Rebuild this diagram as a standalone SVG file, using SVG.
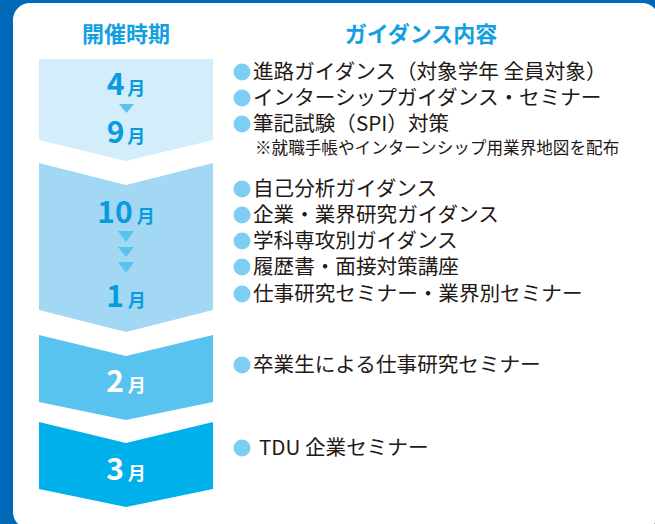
<svg xmlns="http://www.w3.org/2000/svg" width="655" height="524" viewBox="0 0 655 524">
<style>
.hd{font-family:"Noto Sans CJK JP","Noto Sans",sans-serif;font-size:22px;font-weight:700;fill:#12a0e2;text-anchor:middle}
.mo{font-family:"Noto Sans CJK JP","Noto Sans",sans-serif;font-weight:700;text-anchor:middle}
.num{font-size:30px}
.tsu{font-size:18px}
.item{font-family:"Noto Sans CJK JP","Noto Sans",sans-serif;font-size:20.6px;fill:#231815}
.note{font-family:"Noto Sans CJK JP","Noto Sans",sans-serif;font-size:16.6px;fill:#231815}
.bul{fill:#7ecef4}
.tri{fill:#59c3f0}
</style>
<rect x="0" y="0" width="655" height="524" fill="#0068b7"/>
<rect x="13" y="3" width="646" height="526" rx="17" fill="#ffffff"/>
<text class="hd" x="126" y="42">開催時期</text>
<text class="hd" x="421" y="42">ガイダンス内容</text>
<g id="period1">
<polygon points="39,59 213,59 213,140 126,161 39,140" fill="#d4edfa"/>
<text class="mo" x="126" y="95" fill="#0a9ae0"><tspan class="num">4</tspan><tspan class="tsu" dx="3">月</tspan></text>
<polygon class="tri" points="119,104 134,104 126.5,113"/>
<text class="mo" x="126" y="143" fill="#0a9ae0"><tspan class="num">9</tspan><tspan class="tsu" dx="3">月</tspan></text>
</g>
<g id="period2">
<polygon points="39,163 126,185 213,163 213,310 126,332 39,310" fill="#a3d8f5"/>
<text class="mo" x="126" y="223" fill="#0a9ae0"><tspan class="num">10</tspan><tspan class="tsu" dx="4">月</tspan></text>
<polygon class="tri" points="118,231 134,231 126,242"/>
<polygon class="tri" points="118,247 134,247 126,257"/>
<polygon class="tri" points="118,262 134,262 126,273"/>
<text class="mo" x="126" y="307" fill="#0a9ae0"><tspan class="num">1</tspan><tspan class="tsu" dx="4">月</tspan></text>
</g>
<g id="period3">
<polygon points="39,335 126,356 213,335 213,402 126,420 39,402" fill="#59c3f0"/>
<text class="mo" x="126" y="392" fill="#ffffff"><tspan class="num">2</tspan><tspan class="tsu" dx="4">月</tspan></text>
</g>
<g id="period4">
<polygon points="39,422 126,443 213,422 213,489 126,507 39,489" fill="#00b0ea"/>
<text class="mo" x="126" y="480" fill="#ffffff"><tspan class="num">3</tspan><tspan class="tsu" dx="4">月</tspan></text>
</g>
<g id="guidance1">
<circle class="bul" cx="242" cy="72" r="8.5"/>
<text class="item" x="253" y="79">進路ガイダンス（対象学年 全員対象）</text>
<circle class="bul" cx="242" cy="98" r="8.5"/>
<text class="item" x="253" y="105">インターシップガイダンス・セミナー</text>
<circle class="bul" cx="242" cy="124" r="8.5"/>
<text class="item" x="253" y="131">筆記試験（SPI）対策</text>
<text class="note" x="255" y="154">※就職手帳やインターンシップ用業界地図を配布</text>
</g>
<g id="guidance2">
<circle class="bul" cx="242" cy="189" r="8.5"/>
<text class="item" x="253" y="196">自己分析ガイダンス</text>
<circle class="bul" cx="242" cy="215" r="8.5"/>
<text class="item" x="253" y="222">企業・業界研究ガイダンス</text>
<circle class="bul" cx="242" cy="241" r="8.5"/>
<text class="item" x="253" y="248">学科専攻別ガイダンス</text>
<circle class="bul" cx="242" cy="267" r="8.5"/>
<text class="item" x="253" y="274">履歴書・面接対策講座</text>
<circle class="bul" cx="242" cy="294" r="8.5"/>
<text class="item" x="253" y="301">仕事研究セミナー・業界別セミナー</text>
</g>
<g id="guidance3">
<circle class="bul" cx="242" cy="365" r="8.5"/>
<text class="item" x="253" y="372">卒業生による仕事研究セミナー</text>
</g>
<g id="guidance4">
<circle class="bul" cx="242" cy="448" r="8.5"/>
<text class="item" x="259" y="455">TDU 企業セミナー</text>
</g>
</svg>
